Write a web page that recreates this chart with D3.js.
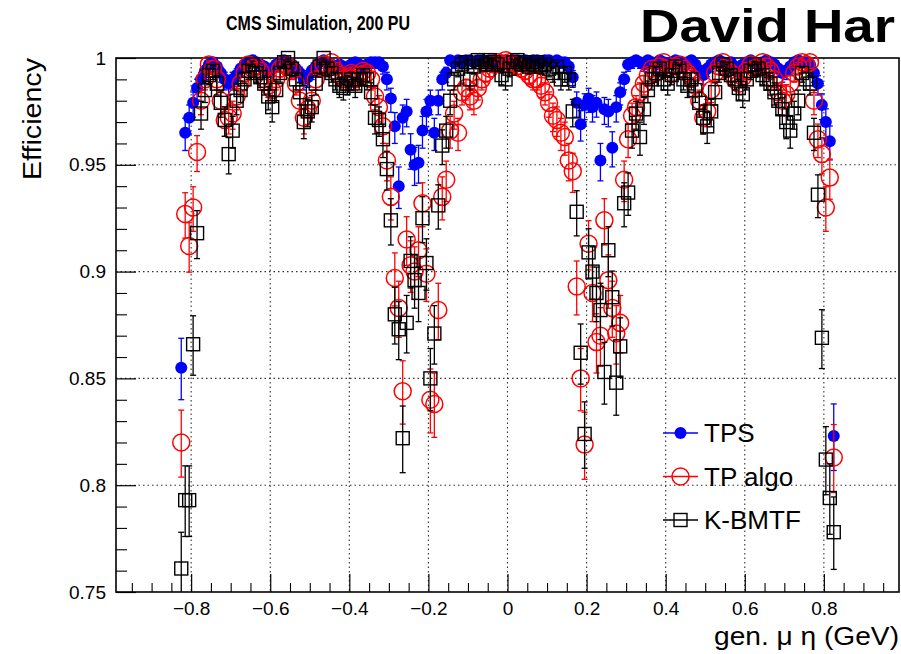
<!DOCTYPE html>
<html>
<head>
<meta charset="utf-8">
<script src="https://cdn.jsdelivr.net/npm/d3@7"></script>
<style>
  html, body { margin: 0; padding: 0; background: #fff; }
  svg { display: block; font-family: "Liberation Sans", Arial, Helvetica, sans-serif; }
</style>
</head>
<body>
<svg id="chart" width="901" height="654"></svg>
<script>
// Efficiency vs generated muon eta, 0.01-wide bins centred from -0.825 to 0.825
const binWidth = 0.01;
const firstBinCentre = -0.825;

const tpsEff = [
  0.855, 0.965, 0.972, 0.979, 0.986, 0.990, 0.994, 0.997, 0.998, 0.996,
  0.993, 0.990, 0.988, 0.990, 0.992, 0.995, 0.997, 0.998, 0.999, 0.998,
  0.997, 0.996, 0.994, 0.995, 0.997, 0.998, 0.999, 0.998, 0.997, 0.995,
  0.993, 0.990, 0.991, 0.994, 0.996, 0.998, 0.999, 0.998, 0.997, 0.996,
  0.997, 0.996, 0.995, 0.997, 0.998, 0.997, 0.996, 0.997, 0.998, 0.998,
  0.998, 0.996, 0.990, 0.981, 0.968, 0.940, 0.972, 0.975, 0.957, 0.950,
  0.951, 0.966, 0.975, 0.980, 0.965, 0.980, 0.990, 0.993, 0.999, 0.998,
  0.999, 0.998, 0.999, 0.999, 0.998, 0.999, 0.999, 0.998, 0.999, 0.999,
  0.998, 0.999, 0.999, 0.998, 0.999, 0.999, 0.998, 0.999, 0.998, 0.999,
  0.999, 0.998, 0.999, 0.999, 0.998, 0.999, 0.998, 0.998, 0.996, 0.991,
  0.979, 0.969, 0.978, 0.981, 0.977, 0.979, 0.952, 0.976, 0.975, 0.958,
  0.977, 0.984, 0.990, 0.997, 0.998, 0.999, 0.998, 0.997, 0.999, 0.998,
  0.997, 0.999, 0.998, 0.997, 0.998, 0.999, 0.998, 0.997, 0.998, 0.999,
  0.997, 0.994, 0.992, 0.995, 0.997, 0.998, 0.999, 0.998, 0.997, 0.998,
  0.996, 0.995, 0.997, 0.998, 0.999, 0.998, 0.997, 0.998, 0.999, 0.998,
  0.997, 0.995, 0.993, 0.994, 0.996, 0.998, 0.999, 0.998, 0.998, 0.997,
  0.993, 0.988, 0.978, 0.970, 0.961, 0.823
];

const tpAlgoEff = [
  0.820, 0.927, 0.912, 0.930, 0.956, 0.980, 0.990, 0.997, 0.995, 0.990,
  0.980, 0.971, 0.972, 0.974, 0.982, 0.988, 0.993, 0.997, 0.995, 0.996,
  0.994, 0.990, 0.987, 0.985, 0.990, 0.995, 0.997, 0.996, 0.994, 0.988,
  0.980, 0.972, 0.976, 0.980, 0.990, 0.995, 0.997, 0.996, 0.998, 0.994,
  0.992, 0.990, 0.991, 0.993, 0.990, 0.992, 0.994, 0.993, 0.990, 0.982,
  0.977, 0.968, 0.952, 0.935, 0.897, 0.883, 0.844, 0.915, 0.903, 0.900,
  0.910, 0.932, 0.899, 0.840, 0.838, 0.882, 0.935, 0.943, 0.966, 0.974,
  0.965, 0.984, 0.986, 0.982, 0.980, 0.986, 0.990, 0.993, 0.995, 0.997,
  0.998, 0.997, 0.999, 0.998, 0.997, 0.996, 0.995, 0.994, 0.992, 0.990,
  0.990, 0.987, 0.984, 0.979, 0.973, 0.971, 0.965, 0.963, 0.952, 0.947,
  0.893, 0.850, 0.819, 0.913, 0.890, 0.867, 0.870, 0.924, 0.896, 0.883,
  0.871, 0.876, 0.943, 0.962, 0.973, 0.977, 0.984, 0.988, 0.992, 0.995,
  0.993, 0.996, 0.998, 0.995, 0.993, 0.996, 0.997, 0.995, 0.993, 0.991,
  0.987, 0.980, 0.972, 0.975, 0.985, 0.993, 0.996, 0.998, 0.995, 0.993,
  0.990, 0.988, 0.991, 0.994, 0.997, 0.995, 0.996, 0.998, 0.996, 0.994,
  0.990, 0.984, 0.980, 0.983, 0.988, 0.993, 0.996, 0.998, 0.997, 0.998,
  0.980, 0.962, 0.955, 0.930, 0.944, 0.813
];

const kbmtfEff = [
  0.761, 0.793, 0.793, 0.866, 0.918, 0.974, 0.985, 0.992, 0.994, 0.988,
  0.979, 0.971, 0.955, 0.966, 0.980, 0.985, 0.990, 0.994, 0.997, 0.993,
  0.991, 0.988, 0.982, 0.977, 0.985, 0.993, 0.998, 1.000, 0.995, 0.990,
  0.984, 0.970, 0.975, 0.977, 0.988, 0.996, 1.000, 0.995, 0.993, 0.990,
  0.987, 0.986, 0.988, 0.990, 0.987, 0.990, 0.992, 0.990, 0.984, 0.972,
  0.971, 0.962, 0.948, 0.924, 0.880, 0.873, 0.822, 0.876, 0.905, 0.896,
  0.890, 0.925, 0.904, 0.850, 0.871, 0.931, 0.959, 0.966, 0.980, 0.990,
  0.995, 0.997, 0.998, 0.990, 0.996, 0.999, 0.998, 0.997, 0.999, 0.998,
  0.997, 0.992, 0.990, 0.995, 0.998, 0.999, 0.997, 0.998, 0.996, 0.997,
  0.998, 0.996, 0.997, 0.995, 0.993, 0.996, 0.990, 0.993, 0.990, 0.975,
  0.928, 0.862, 0.824, 0.909, 0.900, 0.890, 0.882, 0.853, 0.910, 0.888,
  0.848, 0.865, 0.932, 0.937, 0.966, 0.974, 0.963, 0.976, 0.985, 0.990,
  0.993, 0.995, 0.990, 0.988, 0.992, 0.996, 0.994, 0.990, 0.987, 0.990,
  0.985, 0.979, 0.972, 0.968, 0.975, 0.984, 0.993, 0.997, 0.995, 0.992,
  0.990, 0.986, 0.983, 0.990, 0.994, 0.997, 0.995, 0.992, 0.990, 0.988,
  0.984, 0.980, 0.976, 0.970, 0.966, 0.974, 0.980, 0.993, 0.990, 0.988,
  0.965, 0.936, 0.869, 0.812, 0.794, 0.778
];

// Generated muons per eta bin, used for the binomial (Wilson) error bars
const eventsPerBin = 600;

const seriesNames = ["TPS", "TP algo", "K-BMTF"];
const xMajorTicks = [-0.8, -0.6, -0.4, -0.2, 0, 0.2, 0.4, 0.6, 0.8];
const yMajorTicks = [0.75, 0.8, 0.85, 0.9, 0.95, 1];
const titleText = "CMS Simulation, 200 PU";
const authorText = "David Har";
const xTitle = "gen. \u03bc \u03b7 (GeV)";
const yTitle = "Efficiency";

// ---------------------------------------------------------------------------
const svg = d3.select("#chart");
const frame = { left: 116, right: 899, top: 58, bottom: 592 };

const x = d3.scaleLinear().domain([-0.99, 0.99]).range([frame.left, frame.right]);
const y = d3.scaleLinear().domain([0.75, 1.0]).range([frame.bottom, frame.top]);

function binomialInterval(p, n) {
  const z = 1, z2 = z * z;
  const denom = 1 + z2 / n;
  const centre = (p + z2 / (2 * n)) / denom;
  const half = (z / denom) * Math.sqrt(p * (1 - p) / n + z2 / (4 * n * n));
  return [Math.max(0, centre - half), Math.min(1, centre + half)];
}

function makeSeries(values) {
  return values.map((v, i) => {
    const [lo, hi] = binomialInterval(v, eventsPerBin);
    return { eta: firstBinCentre + i * binWidth, eff: v, lo: lo, hi: hi };
  });
}

const series = [
  { name: seriesNames[0], color: "#0000ff", marker: "fullCircle", data: makeSeries(tpsEff) },
  { name: seriesNames[1], color: "#ff0000", marker: "openCircle", data: makeSeries(tpAlgoEff) },
  { name: seriesNames[2], color: "#000000", marker: "openSquare", data: makeSeries(kbmtfEff) }
];

svg.append("defs").append("clipPath").attr("id", "plotClip")
  .append("rect")
  .attr("x", frame.left).attr("y", frame.top - 12)
  .attr("width", frame.right - frame.left).attr("height", frame.bottom - frame.top + 12);

// Dotted grid at the major ticks
const grid = svg.append("g").attr("class", "grid")
  .attr("stroke", "#333").attr("stroke-width", 1.1).attr("stroke-dasharray", "1.5,3");
grid.selectAll("line.gx").data(xMajorTicks).join("line")
  .attr("class", "gx")
  .attr("x1", d => x(d)).attr("x2", d => x(d))
  .attr("y1", frame.top).attr("y2", frame.bottom);
grid.selectAll("line.gy").data(yMajorTicks.filter(d => d > 0.75 && d < 1)).join("line")
  .attr("class", "gy")
  .attr("x1", frame.left).attr("x2", frame.right)
  .attr("y1", d => y(d)).attr("y2", d => y(d));

// Axes with inward-pointing ticks
const xMinor = d3.range(-19, 20).map(k => k * 0.05).filter(v => Math.abs(v) <= 0.99 && !xMajorTicks.some(t => Math.abs(t - v) < 1e-9));
const yMinor = d3.range(75, 101).map(k => k / 100).filter(v => !yMajorTicks.some(t => Math.abs(t - v) < 1e-9));

const xAxis = svg.append("g")
  .attr("transform", `translate(0,${frame.bottom})`)
  .call(d3.axisBottom(x).tickValues(xMajorTicks).tickSize(-18).tickPadding(10)
    .tickFormat(d => d === 0 ? "0" : d3.format(".1f")(d)));
xAxis.select(".domain").remove();
xAxis.selectAll(".tick line").attr("stroke", "#000").attr("stroke-width", 1.2);
xAxis.selectAll(".tick text").attr("font-size", 19).attr("fill", "#000")
  .attr("font-family", "'Liberation Sans', Arial, sans-serif");

const xAxisMinor = svg.append("g")
  .attr("transform", `translate(0,${frame.bottom})`)
  .call(d3.axisBottom(x).tickValues(xMinor).tickSize(-9).tickFormat(""));
xAxisMinor.select(".domain").remove();
xAxisMinor.selectAll(".tick line").attr("stroke", "#000").attr("stroke-width", 1.1);

const yAxis = svg.append("g")
  .attr("transform", `translate(${frame.left},0)`)
  .call(d3.axisLeft(y).tickValues(yMajorTicks).tickSize(-20).tickPadding(10)
    .tickFormat(d => d === 1 ? "1" : String(d)));
yAxis.select(".domain").remove();
yAxis.selectAll(".tick line").attr("stroke", "#000").attr("stroke-width", 1.2);
yAxis.selectAll(".tick text").attr("font-size", 19).attr("fill", "#000")
  .attr("font-family", "'Liberation Sans', Arial, sans-serif");

const yAxisMinor = svg.append("g")
  .attr("transform", `translate(${frame.left},0)`)
  .call(d3.axisLeft(y).tickValues(yMinor).tickSize(-11).tickFormat(""));
yAxisMinor.select(".domain").remove();
yAxisMinor.selectAll(".tick line").attr("stroke", "#000").attr("stroke-width", 1.1);

// Frame
svg.append("rect")
  .attr("x", frame.left).attr("y", frame.top)
  .attr("width", frame.right - frame.left).attr("height", frame.bottom - frame.top)
  .attr("fill", "none").attr("stroke", "#000").attr("stroke-width", 1.6);

// Markers
const markerSize = { fullCircle: 6, openCircle: 8.5, openSquare: 6.5 };

function drawMarker(sel, kind, color) {
  if (kind === "fullCircle") {
    sel.append("circle").attr("r", markerSize.fullCircle).attr("fill", color);
  } else if (kind === "openCircle") {
    sel.append("circle").attr("r", markerSize.openCircle)
      .attr("fill", "none").attr("stroke", color).attr("stroke-width", 1.5);
  } else {
    const s = markerSize.openSquare;
    sel.append("rect").attr("x", -s).attr("y", -s).attr("width", 2 * s).attr("height", 2 * s)
      .attr("fill", "none").attr("stroke", color).attr("stroke-width", 1.4);
  }
}

const plot = svg.append("g").attr("clip-path", "url(#plotClip)");
const capHalf = 3;

series.forEach(s => {
  const g = plot.append("g").attr("class", "series");
  const bars = g.append("g").attr("stroke", s.color).attr("stroke-width", 1.3);
  bars.selectAll("line.err").data(s.data).join("line")
    .attr("class", "err")
    .attr("x1", d => x(d.eta)).attr("x2", d => x(d.eta))
    .attr("y1", d => y(d.lo)).attr("y2", d => y(d.hi));
  bars.selectAll("line.capLo").data(s.data).join("line")
    .attr("class", "capLo")
    .attr("x1", d => x(d.eta) - capHalf).attr("x2", d => x(d.eta) + capHalf)
    .attr("y1", d => y(d.lo)).attr("y2", d => y(d.lo));
  bars.selectAll("line.capHi").data(s.data).join("line")
    .attr("class", "capHi")
    .attr("x1", d => x(d.eta) - capHalf).attr("x2", d => x(d.eta) + capHalf)
    .attr("y1", d => y(d.hi)).attr("y2", d => y(d.hi));
  g.selectAll("g.pt").data(s.data).join("g")
    .attr("class", "pt")
    .attr("transform", d => `translate(${x(d.eta)},${y(d.eff)})`)
    .each(function () { drawMarker(d3.select(this), s.marker, s.color); });
});

// Legend
const legend = svg.append("g").attr("class", "legend");
series.forEach((s, i) => {
  const ly = 433 + i * 43.5;
  const row = legend.append("g");
  row.append("line").attr("x1", 663).attr("x2", 698).attr("y1", ly).attr("y2", ly)
    .attr("stroke", s.color).attr("stroke-width", 1.4);
  drawMarker(row.append("g").attr("transform", `translate(680.5,${ly})`), s.marker, s.color);
  row.append("text").attr("x", 704).attr("y", ly).attr("dy", "0.36em")
    .attr("font-size", 26).attr("fill", "#000").text(s.name);
});

// Titles
svg.append("text").attr("x", 226).attr("y", 30)
  .attr("font-size", 20).attr("font-weight", "bold")
  .attr("textLength", 184).attr("lengthAdjust", "spacingAndGlyphs")
  .text(titleText);
svg.append("text").attr("x", 640).attr("y", 42)
  .attr("font-size", 46).attr("font-weight", "bold")
  .attr("textLength", 255).attr("lengthAdjust", "spacingAndGlyphs")
  .text(authorText);
svg.append("text").attr("x", 714).attr("y", 645)
  .attr("font-size", 25)
  .attr("textLength", 185).attr("lengthAdjust", "spacingAndGlyphs")
  .text(xTitle);
svg.append("text").attr("transform", `translate(41,${frame.top + 122}) rotate(-90)`)
  .attr("font-size", 25)
  .attr("textLength", 122).attr("lengthAdjust", "spacingAndGlyphs")
  .text(yTitle);
</script>
</body>
</html>
